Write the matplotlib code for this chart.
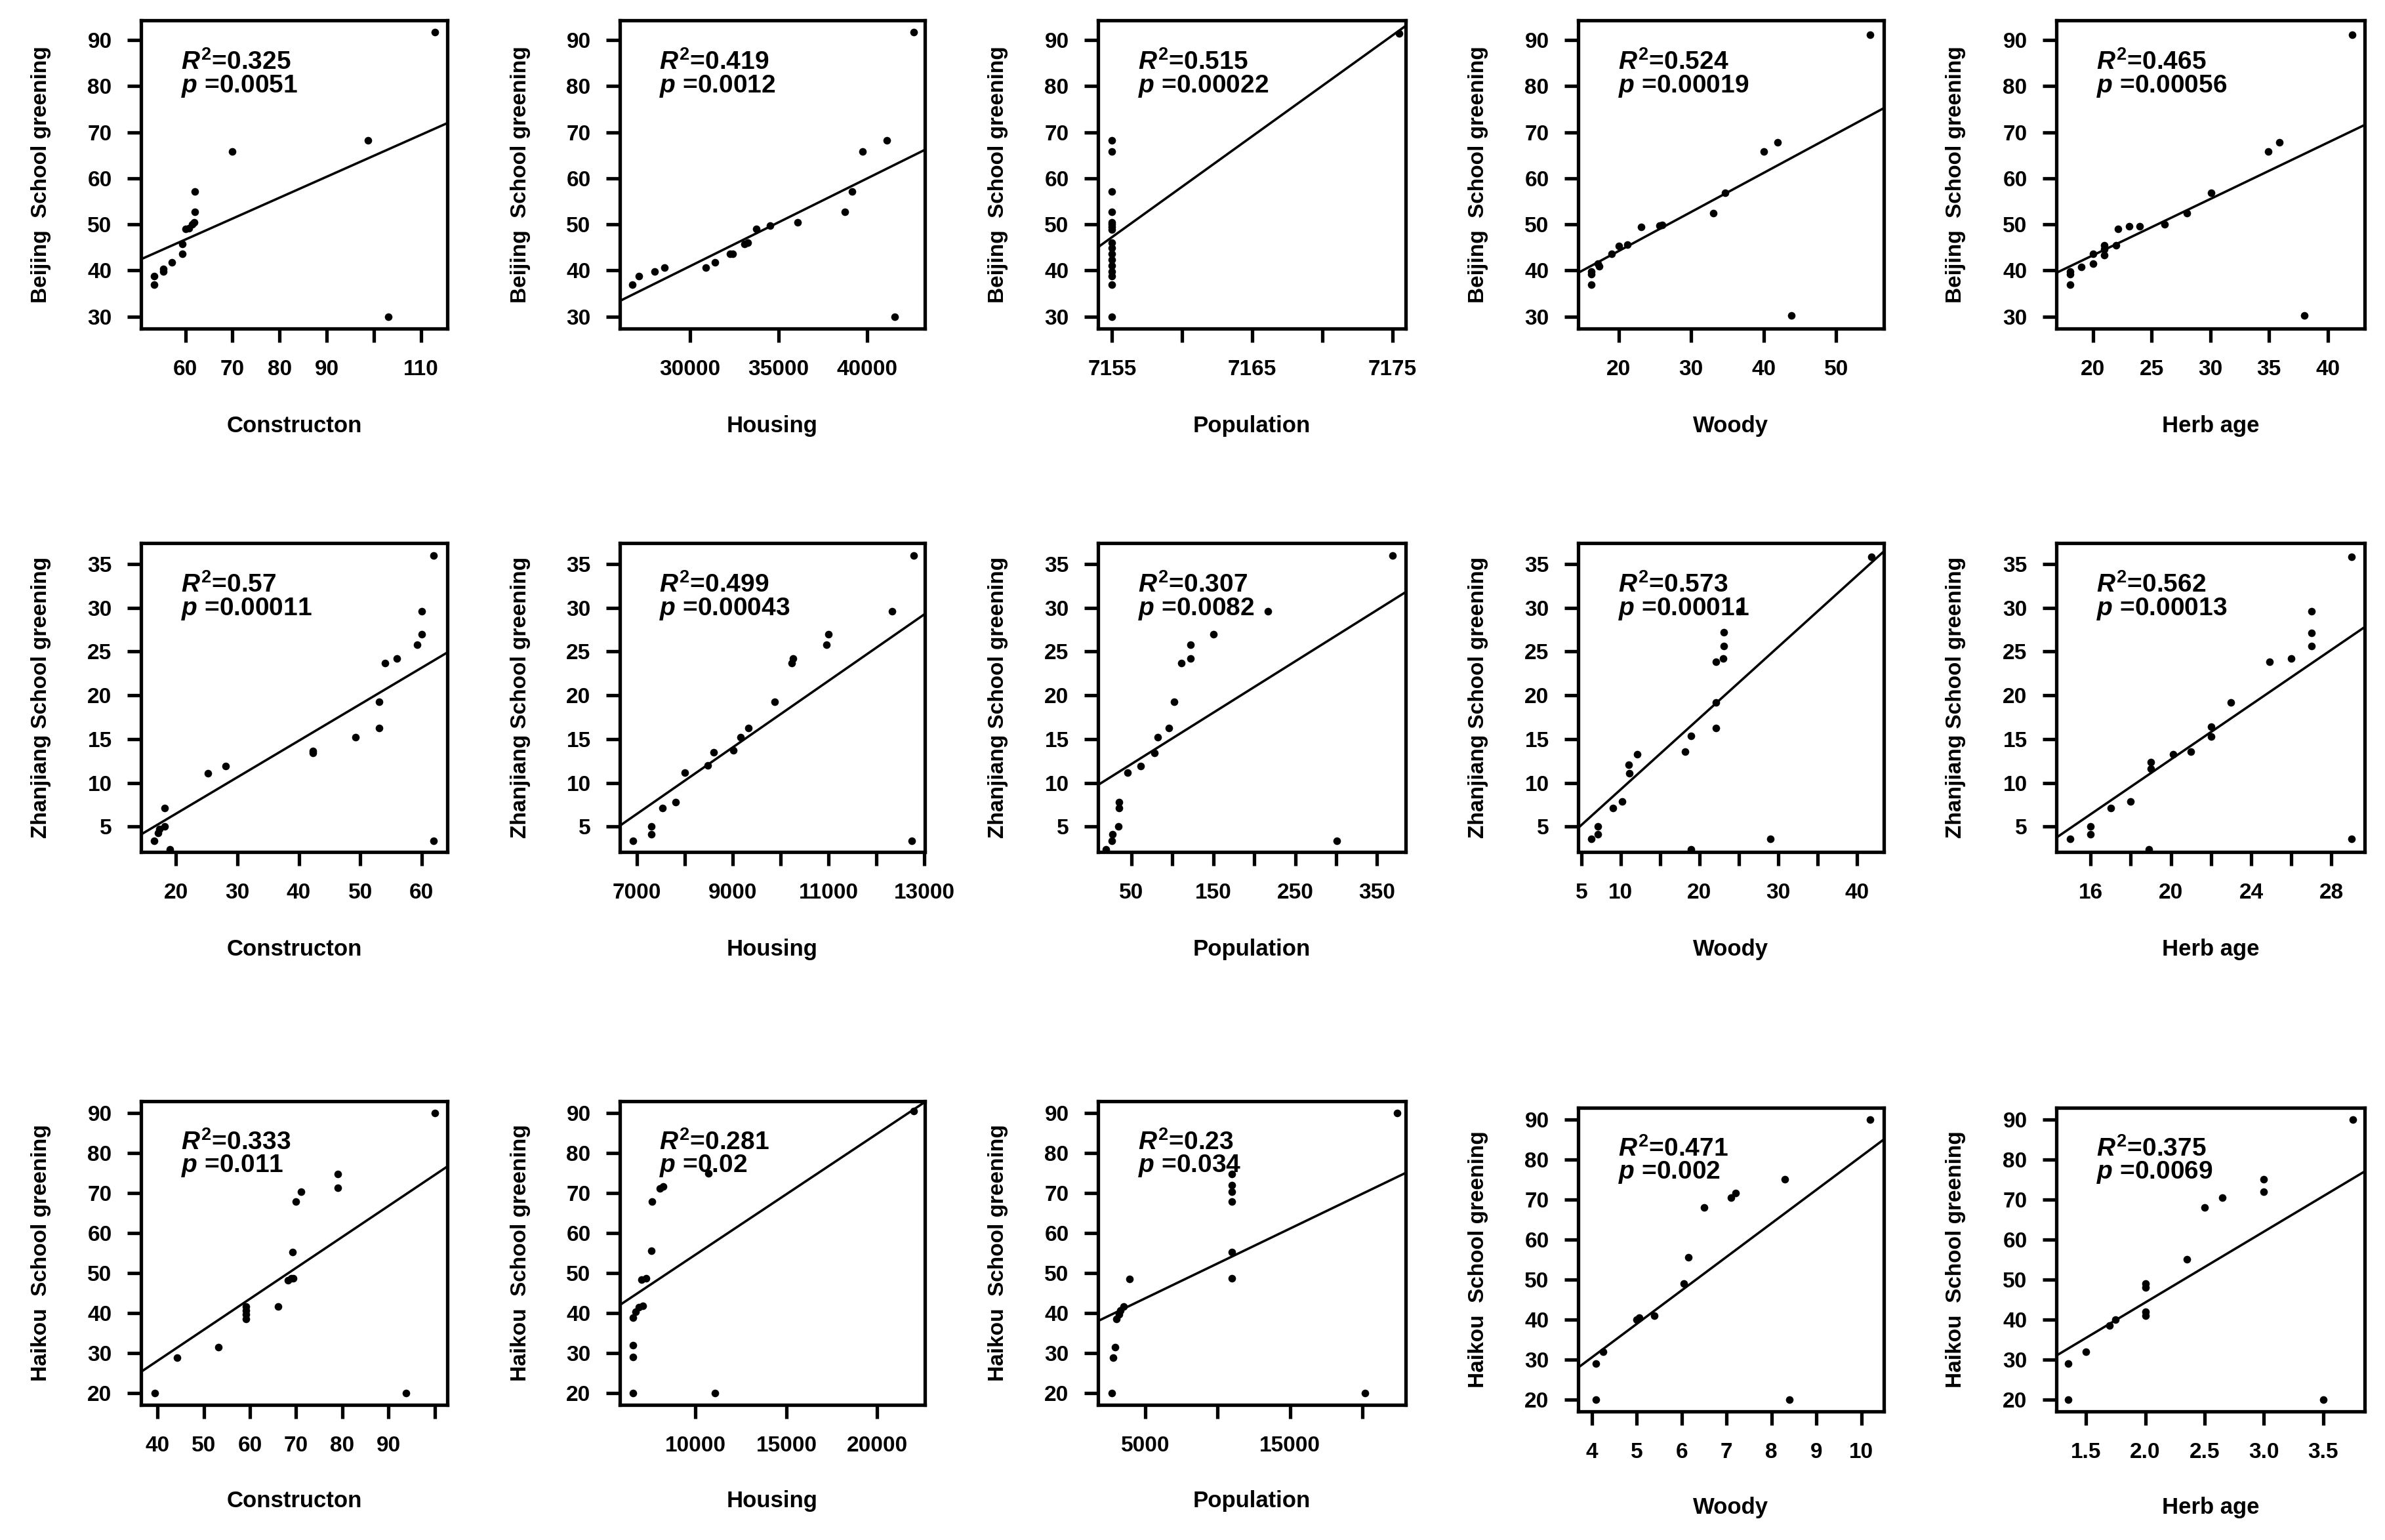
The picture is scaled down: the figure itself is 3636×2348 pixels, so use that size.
import matplotlib
matplotlib.use("Agg")
import matplotlib.pyplot as plt

plt.rcParams['font.family'] = ['Liberation Sans', 'DejaVu Sans']
plt.rcParams['font.weight'] = 'bold'
plt.rcParams['mathtext.fontset'] = 'custom'
plt.rcParams['mathtext.rm'] = 'Liberation Sans:bold'
plt.rcParams['mathtext.bf'] = 'Liberation Sans:bold'
plt.rcParams['mathtext.it'] = 'Liberation Sans:italic:bold'

# ---------------- data ----------------
# Row 1: Beijing
bj_con_x = [113.0, 98.7, 70.0, 103.1, 62.0, 62.0, 61.9, 61.4, 60.8, 60.0, 59.3, 59.3, 57.2, 55.3, 55.3, 53.4, 53.4]
bj_con_y = [91.7, 68.3, 65.9, 30.0, 57.2, 52.8, 50.5, 50.0, 49.2, 49.0, 45.8, 43.6, 41.8, 40.4, 39.8, 38.8, 36.9]
bj_hou_x = [42650, 41130, 39730, 41550, 39150, 38750, 36090, 34515, 33730, 33255, 33080, 32240, 32415, 31400, 30875, 28530, 28000, 27110, 26745]
bj_hou_y = [91.7, 68.3, 65.9, 30.0, 57.2, 52.8, 50.4, 49.7, 49.1, 46.0, 45.8, 43.6, 43.6, 41.8, 40.7, 40.7, 39.8, 38.8, 36.9]
bj_pop_x = [7155] * 17 + [7175.5]
bj_pop_y = [68.3, 65.9, 57.2, 52.8, 50.5, 50.0, 49.5, 48.9, 46.0, 44.9, 43.6, 42.3, 41.0, 39.8, 38.8, 36.9, 30.0, 91.5]
bj_woo_x = [54.7, 41.9, 40.0, 43.8, 33.1, 34.7, 25.6, 26.0, 23.1, 21.2, 20.0, 19.0, 17.1, 17.3, 16.2, 16.2, 16.2]
bj_woo_y = [91.1, 67.8, 65.9, 30.3, 52.5, 56.9, 49.8, 49.9, 49.4, 45.6, 45.3, 43.6, 41.5, 40.9, 39.8, 39.2, 37.0]
bj_her_x = [42.1, 35.9, 34.95, 38.0, 30.1, 28.0, 26.1, 24.0, 23.1, 22.15, 22.0, 21.0, 21.0, 21.0, 20.0, 20.05, 19.05, 18.1, 18.1, 18.1]
bj_her_y = [91.1, 67.8, 65.9, 30.3, 56.9, 52.5, 50.0, 49.6, 49.6, 49.1, 45.5, 45.5, 44.6, 43.3, 43.6, 41.5, 40.8, 39.8, 39.2, 37.0]

# Row 2: Zhanjiang
zj_con_x = [62.0, 60, 60, 59.3, 56.0, 54.1, 53.1, 53.1, 49.2, 42.3, 42.3, 28.1, 25.2, 18.2, 18.2, 17.3, 17.1, 16.4, 19.0, 62.0]
zj_con_y = [36.0, 29.6, 27.0, 25.8, 24.2, 23.7, 19.3, 16.25, 15.2, 13.65, 13.4, 11.9, 11.1, 7.1, 5.0, 4.7, 4.3, 3.4, 2.4, 3.4]
zj_hou_x = [12775, 12323, 11000, 10955, 10258, 10226, 9871, 9323, 9161, 9019, 8600, 8480, 8000, 7806, 7535, 7303, 7303, 6923, 12742]
zj_hou_y = [36.0, 29.6, 27.0, 25.8, 24.2, 23.7, 19.3, 16.25, 15.2, 13.7, 13.5, 12.0, 11.2, 7.8, 7.1, 5.0, 4.1, 3.4, 3.4]
zj_pop_x = [369, 217, 150, 122, 122, 111, 102, 96, 82, 78, 61, 45.5, 35, 35, 34, 27, 25.9, 18.7, 300.5]
zj_pop_y = [36.0, 29.6, 27.0, 25.8, 24.2, 23.7, 19.3, 16.25, 15.2, 13.4, 11.9, 11.2, 7.8, 7.1, 5.0, 4.1, 3.4, 2.4, 3.4]
zj_woo_x = [41.8, 25.1, 23.1, 23.1, 23.0, 22.1, 22.1, 22.1, 18.9, 18.2, 12.1, 11.0, 11.1, 10.2, 9.0, 7.1, 7.1, 6.3, 18.9, 29.0]
zj_woo_y = [35.8, 29.6, 27.2, 25.6, 24.2, 23.8, 19.2, 16.3, 15.4, 13.6, 13.3, 12.1, 11.1, 7.9, 7.1, 5.0, 4.1, 3.6, 2.4, 3.6]
zj_her_x = [29.0, 27.0, 27.0, 27.0, 26.0, 24.9, 23.0, 22.0, 22.0, 21.0, 20.1, 19.0, 19.0, 18.0, 17.0, 16.0, 16.0, 15.0, 18.9, 29.0]
zj_her_y = [35.8, 29.6, 27.1, 25.6, 24.2, 23.8, 19.2, 16.4, 15.3, 13.6, 13.3, 12.4, 11.6, 7.9, 7.1, 5.0, 4.1, 3.6, 2.4, 3.6]

# Row 3: Haikou
hk_con_x = [100, 79, 79, 71.1, 70.0, 69.2, 68.9, 68.2, 69.4, 66.1, 59.2, 59.2, 59.2, 59.2, 53.2, 44.2, 39.5, 93.8]
hk_con_y = [90, 74.75, 71.2, 70.35, 67.9, 55.3, 48.7, 48.2, 48.7, 41.6, 41.7, 40.7, 39.6, 38.5, 31.5, 28.9, 20, 20]
hk_hou_x = [21990, 10700, 8214, 8044, 7619, 7568, 7279, 7024, 7109, 6888, 6684, 6565, 6565, 6565, 6565, 11054]
hk_hou_y = [90.5, 74.8, 71.6, 71.1, 67.9, 55.5, 48.7, 48.4, 41.8, 41.4, 40.3, 38.8, 31.9, 29.0, 20, 20]
hk_pop_x = [22400, 11000, 11000, 11000, 11000, 11000, 11000, 3900, 3500, 3300, 3200, 3000, 2900, 2800, 2700, 20200]
hk_pop_y = [90, 74.75, 72.0, 70.35, 67.9, 55.3, 48.7, 48.5, 41.6, 40.7, 39.6, 38.5, 31.5, 28.9, 20, 20]
hk_woo_x = [10.2, 8.3, 7.2, 7.1, 6.5, 6.15, 6.05, 5.4, 5.05, 5.0, 4.25, 4.1, 4.1, 8.4]
hk_woo_y = [90, 75, 71.6, 70.5, 68, 55.5, 49, 41, 40.5, 40, 32, 29, 20, 20]
hk_her_x = [3.75, 3.0, 3.0, 2.65, 2.5, 2.35, 2.0, 2.0, 2.0, 2.0, 1.75, 1.7, 1.5, 1.35, 1.35, 3.5]
hk_her_y = [90, 75, 72, 70.5, 68, 55, 49, 48, 42, 41, 40, 38.5, 32, 29, 20, 20]

# regression line: two points on the fitted line (x0, x1), (y0, y1)
fit_x = [[50.6, 115.6], [26027, 43265], [7154.0, 7175.95], [14.4, 56.6], [16.9, 43.15],
         [14.3, 64.2], [6645, 13010], [9.2, 385], [4.6, 43.4], [14.3, 29.65],
         [36.45, 102.7], [5833, 22619], [1737, 23000], [3.7, 10.5], [1.25, 3.85]]
fit_y = [[42.45, 72.0], [33.4, 66.2], [45.07, 93.1], [39.5, 75.25], [39.5, 71.6],
         [4.1, 24.9], [5.1, 29.3], [9.76, 31.8], [4.85, 36.45], [3.74, 27.8],
         [25.3, 76.6], [42.0, 92.7], [38.0, 75.0], [28.0, 85.0], [31.0, 77.0]]

r2_text = ["0.325", "0.419", "0.515", "0.524", "0.465",
           "0.57", "0.499", "0.307", "0.573", "0.562",
           "0.333", "0.281", "0.23", "0.471", "0.375"]
p_text = ["0.0051", "0.0012", "0.00022", "0.00019", "0.00056",
          "0.00011", "0.00043", "0.0082", "0.00011", "0.00013",
          "0.011", "0.02", "0.034", "0.002", "0.0069"]

x_labels = ["Constructon", "Housing", "Population", "Woody", "Herb age"]
y_labels = ["Beijing  School greening", "Zhanjiang School greening", "Haikou  School greening"]

x_ticks = [
    ([60, 70, 80, 90, 100, 110], ["60", "70", "80", "90", "", "110"]),
    ([30000, 35000, 40000], ["30000", "35000", "40000"]),
    ([7155, 7160, 7165, 7170, 7175], ["7155", "", "7165", "", "7175"]),
    ([20, 30, 40, 50], ["20", "30", "40", "50"]),
    ([20, 25, 30, 35, 40], ["20", "25", "30", "35", "40"]),
    ([20, 30, 40, 50, 60], ["20", "30", "40", "50", "60"]),
    ([7000, 8000, 9000, 10000, 11000, 12000, 13000], ["7000", "", "9000", "", "11000", "", "13000"]),
    ([50, 100, 150, 200, 250, 300, 350], ["50", "", "150", "", "250", "", "350"]),
    ([5, 10, 15, 20, 25, 30, 35, 40], ["5", "10", "", "20", "", "30", "", "40"]),
    ([16, 18, 20, 22, 24, 26, 28], ["16", "", "20", "", "24", "", "28"]),
    ([40, 50, 60, 70, 80, 90, 100], ["40", "50", "60", "70", "80", "90", ""]),
    ([10000, 15000, 20000], ["10000", "15000", "20000"]),
    ([5000, 10000, 15000, 20000], ["5000", "", "15000", ""]),
    ([4, 5, 6, 7, 8, 9, 10], ["4", "5", "6", "7", "8", "9", "10"]),
    ([1.5, 2.0, 2.5, 3.0, 3.5], ["1.5", "2.0", "2.5", "3.0", "3.5"]),
]
y_ticks = [[30, 40, 50, 60, 70, 80, 90], [5, 10, 15, 20, 25, 30, 35], [20, 30, 40, 50, 60, 70, 80, 90]]
y_lims = [(27.4, 94.3), (2.1, 37.4), (17.05, 92.9)]
x_lims = [(50.6, 115.6), (26027, 43265), (7154.0, 7175.95), (14.4, 56.6), (16.9, 43.15),
          (14.3, 64.2), (6645, 13010), (9.2, 385), (4.6, 43.4), (14.3, 29.65),
          (36.45, 102.7), (5833, 22619), (1737, 23000), (3.7, 10.5), (1.25, 3.85)]

series = [(bj_con_x, bj_con_y), (bj_hou_x, bj_hou_y), (bj_pop_x, bj_pop_y), (bj_woo_x, bj_woo_y), (bj_her_x, bj_her_y),
          (zj_con_x, zj_con_y), (zj_hou_x, zj_hou_y), (zj_pop_x, zj_pop_y), (zj_woo_x, zj_woo_y), (zj_her_x, zj_her_y),
          (hk_con_x, hk_con_y), (hk_hou_x, hk_hou_y), (hk_pop_x, hk_pop_y), (hk_woo_x, hk_woo_y), (hk_her_x, hk_her_y)]

# ---------------- layout (pixel boxes of the panels) ----------------
W, H = 3637, 2348
col_x = [(215, 682), (945, 1410), (1674, 2143), (2406, 2872), (3135, 3605)]
row_y = [(31, 501), (828, 1299), (1679, 2142)]

fig = plt.figure(figsize=(W / 100, H / 100), dpi=100)
fig.patch.set_facecolor("white")

for i, (xs, ys) in enumerate(series):
    r, c = divmod(i, 5)
    x0, x1 = col_x[c]
    y0, y1 = row_y[r]
    if r == 2 and c >= 3:
        y0, y1 = y0 + 10, y1 + 10
    ax = fig.add_axes([x0 / W, 1 - y1 / H, (x1 - x0) / W, (y1 - y0) / H])
    ax.scatter(xs, ys, s=70, color="black", marker="o", linewidths=0, zorder=3)
    ax.axline((fit_x[i][0], fit_y[i][0]), (fit_x[i][1], fit_y[i][1]), color="black", lw=2.6, zorder=2)
    ax.set_xlim(*x_lims[i])
    ax.set_ylim(*y_lims[r])
    ticks, labels = x_ticks[i]
    ax.set_xticks(ticks)
    ax.set_xticklabels(labels)
    ax.set_yticks(y_ticks[r])
    for sp in ax.spines.values():
        sp.set_linewidth(3.8)
    ax.tick_params(axis="both", direction="out", length=15, width=3.8, labelsize=24)
    ax.tick_params(axis="x", pad=19)
    ax.tick_params(axis="y", pad=17)
    for lab in ax.get_xticklabels() + ax.get_yticklabels():
        lab.set_fontweight("bold")
    ax.set_xlabel(x_labels[c], fontsize=25, fontweight="bold")
    ax.xaxis.set_label_coords(0.5, -0.28)
    ax.set_ylabel(y_labels[r], fontsize=24, fontweight="bold")
    ax.yaxis.set_label_coords(-0.293, 0.5)
    ax.text(0.13, 0.841, r"$\mathit{R}^{\mathbf{2}}$=" + r2_text[i], transform=ax.transAxes,
            fontsize=28, fontweight="bold", va="baseline", ha="left")
    ax.text(0.13, 0.767, r"$\mathit{p}$ =" + p_text[i], transform=ax.transAxes,
            fontsize=28, fontweight="bold", va="baseline", ha="left")

fig.savefig("out.png", dpi=100, facecolor="white")
